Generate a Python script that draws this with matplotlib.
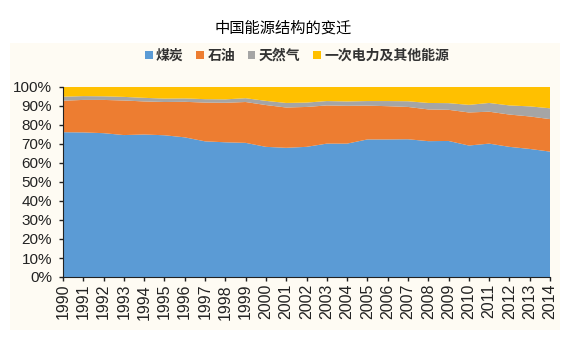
import matplotlib
matplotlib.use("Agg")
import matplotlib.pyplot as plt
from matplotlib.patches import Rectangle
from matplotlib.ticker import PercentFormatter, MultipleLocator

plt.rcParams['font.family'] = ['Liberation Sans', 'Noto Sans CJK SC', 'DejaVu Sans']

# China primary energy consumption mix, share of total (%)
years = list(range(1990, 2015))
coal = [76.2, 76.1, 75.7, 74.7, 75.0, 74.6, 73.5, 71.4, 70.9, 70.6, 68.5, 68.0, 68.5,
        70.2, 70.2, 72.4, 72.4, 72.5, 71.5, 71.6, 69.2, 70.2, 68.5, 67.4, 66.0]
oil = [16.6, 17.1, 17.5, 18.2, 17.4, 17.5, 18.7, 20.4, 20.8, 21.5, 22.0, 21.2, 21.0,
       20.1, 19.9, 17.8, 17.5, 17.0, 16.7, 16.4, 17.4, 16.8, 17.0, 17.1, 17.1]
gas = [2.1, 2.0, 1.9, 1.9, 1.9, 1.8, 1.8, 1.8, 1.8, 2.0, 2.2, 2.4, 2.3,
       2.3, 2.3, 2.4, 2.7, 3.0, 3.4, 3.5, 4.0, 4.6, 4.8, 5.3, 5.7]
other = [round(100 - c - o - g, 1) for c, o, g in zip(coal, oil, gas)]

series_names = ['煤炭', '石油', '天然气', '一次电力及其他能源']
colors = ['#5B9BD5', '#ED7D31', '#A5A5A5', '#FFC000']

fig = plt.figure(figsize=(5.8, 3.43), dpi=100)
fig.patch.set_facecolor('white')

# light cream panel behind the chart
fig.patches.append(Rectangle((10 / 580, 1 - 330 / 343), 550 / 580, (330 - 43) / 343,
                             transform=fig.transFigure, facecolor='#FEFBF3',
                             edgecolor='none', zorder=-10))

fig.text(283 / 580, 1 - 28 / 343, '中国能源结构的变迁', ha='center', va='center',
         fontsize=11, family=['Noto Sans CJK SC', 'DejaVu Sans'])

ax = fig.add_axes([63 / 580, 1 - 277 / 343, (550 - 63) / 580, (277 - 87) / 343])
ax.set_facecolor('none')
ax.stackplot(years, coal, oil, gas, other, colors=colors, labels=series_names,
             linewidth=0)

ax.set_xlim(years[0], years[-1])
ax.set_ylim(0, 100)
ax.yaxis.set_major_locator(MultipleLocator(10))
ax.yaxis.set_major_formatter(PercentFormatter(decimals=0))
ax.set_xticks(years)
ax.set_xticklabels([str(y) for y in years], rotation=90)
ax.tick_params(axis='both', colors='#222222', length=3, width=1)
ax.tick_params(axis='x', labelsize=11.5, pad=2)
ax.tick_params(axis='y', labelsize=11, pad=5)
for side in ['top', 'right']:
    ax.spines[side].set_visible(False)
ax.spines['left'].set_color('#222222')
ax.spines['bottom'].set_color('#222222')

leg = fig.legend(loc='center', bbox_to_anchor=(297 / 580, 1 - 56 / 343), ncol=4,
                 frameon=False, handlelength=0.55, handleheight=0.55,
                 handletextpad=0.25, columnspacing=0.9,
                 prop={'family': ['Noto Sans CJK SC', 'DejaVu Sans'],
                       'size': 10, 'weight': 'bold'})
for t in leg.get_texts():
    t.set_color('#333333')

fig.savefig('out.png', dpi=100)
